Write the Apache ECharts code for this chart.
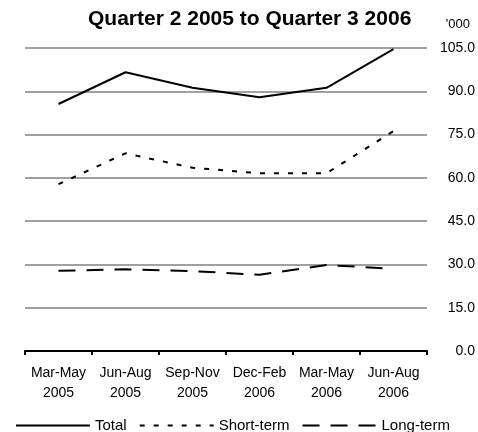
<!DOCTYPE html>
<html>
<head>
<meta charset="utf-8">
<script src="https://cdn.jsdelivr.net/npm/echarts@6/dist/echarts.min.js"></script>
<style>
  html, body { margin: 0; padding: 0; background: #fff; }
  #chart { width: 478px; height: 432px; }
</style>
</head>
<body>
<div id="chart"></div>
<script>
const categories = ['Mar-May\n2005', 'Jun-Aug\n2005', 'Sep-Nov\n2005', 'Dec-Feb\n2006', 'Mar-May\n2006', 'Jun-Aug\n2006'];
const total = [85.6, 96.6, 91.2, 87.9, 91.2, 104.6];
const shortTerm = [57.8, 68.5, 63.5, 61.6, 61.6, 76.2];
const longTerm = [27.8, 28.3, 27.7, 26.4, 29.8, 28.5];
const yTicks = { min: 0, max: 105, interval: 15 };

const font = 'Liberation Sans, Arial, Helvetica, sans-serif';

const chart = echarts.init(document.getElementById('chart'));

function line(name, data, type) {
    return {
        name,
        type: 'line',
        data,
        symbol: 'none',
        silent: true,
        lineStyle: { color: '#000', width: 2, type },
        itemStyle: { color: '#000' }
    };
}

chart.setOption({
    animation: false,
    backgroundColor: '#fff',
    title: [
        {
            text: 'Quarter 2 2005 to Quarter 3 2006',
            left: 83,
            top: 4,
            textStyle: { fontFamily: font, fontSize: 21, fontWeight: 'bold', color: '#000' }
        },
        {
            text: "'000",
            right: 3,
            top: 13,
            textStyle: { fontFamily: font, fontSize: 13, fontWeight: 'normal', color: '#000' }
        }
    ],
    legend: {
        left: 10,
        top: 413,
        itemWidth: 74,
        itemHeight: 10,
        itemGap: 12,
        itemStyle: { opacity: 0 },
        textStyle: { fontFamily: font, fontSize: 15, color: '#000' },
        data: ['Total', 'Short-term', 'Long-term']
    },
    grid: { left: 25, right: 51, top: 48, bottom: 81 },
    xAxis: {
        type: 'category',
        data: categories,
        boundaryGap: true,
        axisLine: { lineStyle: { color: '#000', width: 2 } },
        axisTick: { show: true, interval: 0, length: 4, lineStyle: { color: '#000', width: 2 } },
        axisLabel: { interval: 0, fontFamily: font, fontSize: 14, color: '#000', margin: 12, lineHeight: 20 },
        splitLine: { show: false }
    },
    yAxis: {
        type: 'value',
        position: 'right',
        min: yTicks.min,
        max: yTicks.max,
        interval: yTicks.interval,
        axisLine: { show: false },
        axisTick: { show: false },
        axisLabel: {
            fontFamily: font,
            fontSize: 14,
            color: '#000',
            align: 'right',
            margin: 48,
            formatter: v => v.toFixed(1)
        },
        splitLine: { lineStyle: { color: '#a0a0a0', width: 2 } }
    },
    series: [
        line('Total', total, 'solid'),
        line('Short-term', shortTerm, [5, 9]),
        line('Long-term', longTerm, [17, 11])
    ]
});
</script>
</body>
</html>
